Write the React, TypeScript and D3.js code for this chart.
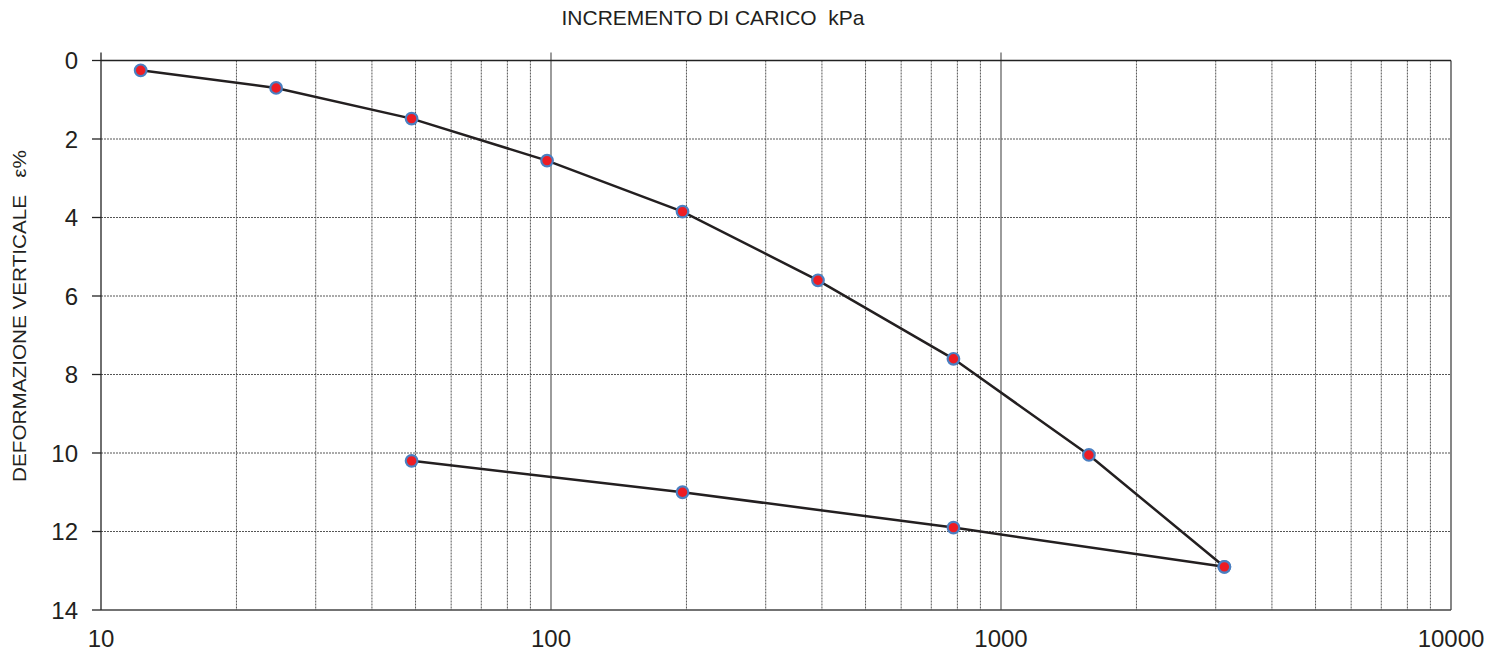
import React from "react";
import * as d3 from "d3";

const loadX = [12.25, 24.5, 49, 98, 196, 392, 784, 1568, 3136];
const loadY = [0.25, 0.7, 1.48, 2.55, 3.85, 5.6, 7.6, 10.05, 12.9];
const unloadX = [49, 196, 784, 3136];
const unloadY = [10.2, 11.0, 11.9, 12.9];
const xTickLabels = [10, 100, 1000, 10000];
const yTicks = [0, 2, 4, 6, 8, 10, 12, 14];

const W = 1495, H = 661;
const L = 101, R = 1451, T = 60.5, B = 610;

export default function App() {
  const x = d3.scaleLog().domain([10, 10000]).range([L, R]);
  const y = d3.scaleLinear().domain([0, 14]).range([T, B]);
  const minor: number[] = [];
  for (const d of [10, 100, 1000]) for (let k = 2; k <= 9; k++) minor.push(d * k);
  const line = d3.line<[number, number]>().x(p => x(p[0])).y(p => y(p[1]));
  const load = loadX.map((v, i) => [v, loadY[i]] as [number, number]);
  const unload = unloadX.map((v, i) => [v, unloadY[i]] as [number, number]);
  const font = "Liberation Sans, Arial, sans-serif";
  return (
    <svg width={W} height={H} style={{ position: "absolute", left: 0, top: 0, background: "#fff" }}>
      {minor.map(v => (
        <line key={"m" + v} x1={x(v)} x2={x(v)} y1={T} y2={B} stroke="#555" strokeWidth={1} strokeDasharray="2,1" />
      ))}
      {yTicks.slice(1, -1).map(v => (
        <line key={"h" + v} x1={L} x2={R} y1={y(v)} y2={y(v)} stroke="#555" strokeWidth={1} strokeDasharray="2,1" />
      ))}
      {[100, 1000].map(v => (
        <line key={"M" + v} x1={x(v)} x2={x(v)} y1={T - 8} y2={B} stroke="#666" strokeWidth={1.3} />
      ))}
      <line x1={L} x2={R} y1={B} y2={B} stroke="#444" strokeWidth={1.3} />
      <line x1={R} x2={R} y1={T} y2={B} stroke="#444" strokeWidth={1.3} />
      <line x1={L} x2={R} y1={T} y2={T} stroke="#222" strokeWidth={1.3} />
      <line x1={L} x2={L} y1={T - 8} y2={B} stroke="#222" strokeWidth={1.3} />
      {yTicks.map(v => (
        <g key={"yt" + v}>
          <line x1={L - 9} x2={L} y1={y(v)} y2={y(v)} stroke="#222" strokeWidth={1.3} />
          <text x={78} y={y(v)} dy="0.36em" textAnchor="end" fontFamily={font} fontSize={24} fill="#231f20">{v}</text>
        </g>
      ))}
      {xTickLabels.map(v => (
        <text key={"xt" + v} x={x(v)} y={647} textAnchor="middle" fontFamily={font} fontSize={24} fill="#231f20">{v}</text>
      ))}
      <text x={713} y={25} textAnchor="middle" fontFamily={font} fontSize={21} fill="#231f20" style={{ whiteSpace: "pre" }}>INCREMENTO DI CARICO  kPa</text>
      <text transform="translate(26,316) rotate(-90)" textAnchor="middle" fontFamily={font} fontSize={17.5} fill="#231f20"
        textLength={332} lengthAdjust="spacingAndGlyphs" style={{ whiteSpace: "pre" }}>DEFORMAZIONE VERTICALE   ε%</text>
      <path d={line(load) ?? ""} fill="none" stroke="#231f20" strokeWidth={2.5} />
      <path d={line(unload) ?? ""} fill="none" stroke="#231f20" strokeWidth={2.5} />
      {[...load, ...unload].map((p, i) => (
        <circle key={"c" + i} cx={x(p[0])} cy={y(p[1])} r={5.8} fill="#ed1c24" stroke="#4a7fc1" strokeWidth={2.2} />
      ))}
    </svg>
  );
}
